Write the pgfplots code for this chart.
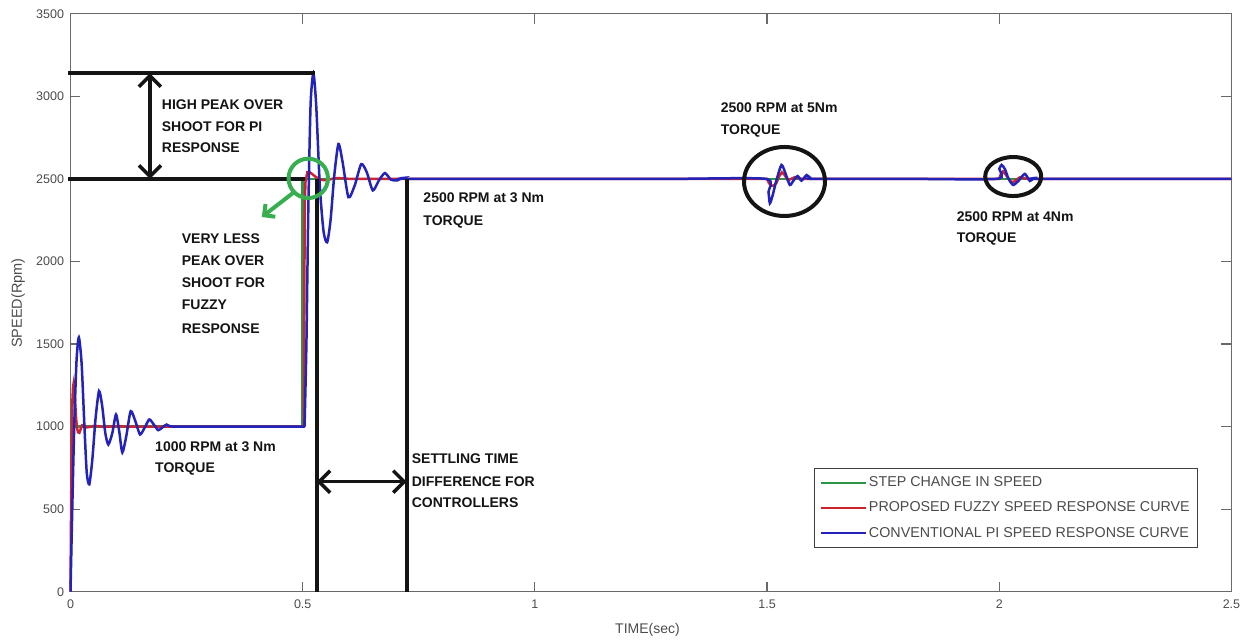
\documentclass[border=0pt]{standalone}
\usepackage{pgfplots}
\pgfplotsset{compat=1.18}
\usepackage{fontspec}
\setmainfont{Liberation Sans}
\usetikzlibrary{arrows.meta}

\definecolor{piblue}{RGB}{35,35,185}
\definecolor{fuzzyred}{RGB}{205,35,45}
\definecolor{stepgreen}{RGB}{45,150,70}
\definecolor{markgreen}{RGB}{55,175,80}
\definecolor{axisgray}{RGB}{105,105,105}
\definecolor{labelgray}{RGB}{75,75,75}
\definecolor{inkblack}{RGB}{20,20,20}

\newcommand{\annfont}{\fontsize{14}{16}\selectfont\bfseries}

\begin{document}
\begin{tikzpicture}
\useasboundingbox (-70.5pt,-49.3pt) rectangle (1177.5pt,591.7pt);
\begin{axis}[
  scale only axis, width=1161pt, height=578pt,
  xmin=0, xmax=2.5, ymin=0, ymax=3500,
  xtick={0,0.5,1,1.5,2,2.5},
  ytick={0,500,1000,1500,2000,2500,3000,3500},
  tick align=inside, major tick length=10pt,
  axis line style={draw=axisgray, line width=1.2pt},
  every tick/.style={axisgray, line width=1.2pt},
  ticklabel style={font=\fontsize{12.5}{13}\selectfont, text=labelgray},
  yticklabel style={xshift=-3pt},
  xticklabel style={yshift=-5pt},
  /pgf/number format/assume math mode=true,
  /pgf/number format/set thousands separator={},
  xlabel={TIME(sec)}, ylabel={SPEED(Rpm)},
  xlabel style={at={(axis description cs:0.497,-0.0715)}, anchor=base,
    font=\fontsize{14}{14}\selectfont, text=labelgray},
  ylabel style={at={(axis description cs:-0.0452,0.4995)}, anchor=center,
    font=\fontsize{14.5}{14.5}\selectfont, text=labelgray},
  clip=false,
  legend cell align=left,
  legend image code/.code={\draw[#1, line width=2pt] (0pt,0pt) -- (45pt,0pt);},
  legend style={at={(axis description cs:0.6404,0.2135)}, anchor=north west,
    draw=black!75, line width=1pt, fill=white,
    font=\fontsize{14.3}{14.3}\selectfont, text=labelgray,
    inner xsep=6pt, inner ysep=6.5pt, row sep=9.7pt,
    nodes={inner sep=1.5pt, text height=10pt, text depth=2.5pt}},
]

% reference speed command
\addplot[stepgreen, line width=2.5pt] coordinates {
  (0,1000) (0.5,1000) (0.5,2500) (2.5,2500)};
\addlegendentry{STEP CHANGE IN SPEED}

% fuzzy controller response
\addplot[fuzzyred, line width=2.5pt] coordinates {
  (0,0) (0.001,400) (0.002,750) (0.003,1000) (0.004,1150) (0.0055,1240)
  (0.007,1265) (0.0085,1230) (0.010,1150) (0.012,1050) (0.014,990)
  (0.0165,965) (0.019,962) (0.022,985) (0.025,1008) (0.030,1006) (0.035,995)
  (0.042,998) (0.05,1004) (0.06,1002) (0.07,998) (0.085,1000) (0.10,1002)
  (0.12,1000) (0.500,1000) (0.5025,1000) (0.5035,1800) (0.5045,2350)
  (0.506,2480) (0.510,2541) (0.515,2540) (0.520,2530) (0.528,2512)
  (0.535,2500) (0.545,2492) (0.555,2494) (0.57,2505) (0.585,2503) (0.60,2500)
  (1.500,2500) (1.504,2475) (1.508,2460) (1.514,2458) (1.520,2475)
  (1.526,2515) (1.532,2540) (1.538,2522) (1.545,2490) (1.552,2500)
  (1.560,2510) (1.567,2504) (1.575,2500) (2.000,2500) (2.004,2535)
  (2.008,2545) (2.014,2525) (2.020,2500) (2.025,2484) (2.030,2480)
  (2.037,2495) (2.045,2510) (2.052,2504) (2.060,2500) (2.5,2500)};
\addlegendentry{PROPOSED FUZZY SPEED RESPONSE CURVE}

% conventional PI controller response: start-up at 1000 rpm
\addplot[piblue, line width=2.5pt, smooth, tension=0.4, forget plot] coordinates {
  (0,0) (0.003,400) (0.008,1000) (0.013,1400) (0.018,1540) (0.024,1380)
  (0.030,1000) (0.035,720) (0.0405,650) (0.047,800) (0.054,1050) (0.0614,1215)
  (0.068,1130) (0.075,960) (0.0815,891) (0.090,960) (0.098,1073) (0.105,970)
  (0.1116,843) (0.120,940) (0.1296,1093) (0.140,1030) (0.1497,952) (0.160,995)
  (0.1697,1043) (0.180,1010) (0.189,978) (0.198,995) (0.207,1012) (0.22,1000)
  (0.30,1000) (0.40,1000) (0.504,1000)};
% step to 2500 rpm and load changes
\addplot[piblue, line width=2.5pt, smooth, tension=0.4] coordinates {
  (0.504,1000) (0.508,1500) (0.512,2300)
  (0.517,2950) (0.523,3139) (0.529,2950) (0.537,2450) (0.545,2180) (0.5527,2116)
  (0.560,2250) (0.568,2520) (0.577,2711) (0.586,2600) (0.5985,2389) (0.612,2460)
  (0.626,2589) (0.638,2540) (0.651,2430) (0.664,2490) (0.677,2535) (0.690,2495)
  (0.703,2490) (0.715,2505) (0.73,2500) (1.00,2500) (1.300,2500) (1.497,2500)
  (1.503,2420) (1.506,2352) (1.512,2400) (1.520,2490) (1.531,2584) (1.540,2530)
  (1.549,2463) (1.557,2490) (1.566,2517) (1.574,2489) (1.585,2523) (1.593,2505)
  (1.60,2500) (1.80,2500) (1.995,2500) (2.000,2560) (2.005,2584) (2.012,2560)
  (2.020,2500) (2.030,2463) (2.042,2490) (2.055,2530) (2.066,2487) (2.075,2505)
  (2.085,2500) (2.30,2500) (2.5,2500)};
\addlegendentry{CONVENTIONAL PI SPEED RESPONSE CURVE}

% overshoot markers
\draw[inkblack, line width=4pt] (axis cs:-0.005,3139) -- (axis cs:0.527,3139);
\draw[inkblack, line width=4pt] (axis cs:-0.005,2500) -- (axis cs:0.506,2500);
\draw[inkblack, line width=3.5pt,
  {Straight Barb[length=11pt,width=22pt]}-{Straight Barb[length=11pt,width=22pt]}]
  (axis cs:0.171,3139) -- (axis cs:0.171,2500);

% settling time markers
\draw[inkblack, line width=4pt] (axis cs:0.530,2500) -- (axis cs:0.530,0);
\draw[inkblack, line width=4pt] (axis cs:0.724,2500) -- (axis cs:0.724,0);
\draw[inkblack, line width=3.5pt,
  {Straight Barb[length=11pt,width=22pt]}-{Straight Barb[length=11pt,width=22pt]}]
  (axis cs:0.530,666) -- (axis cs:0.724,666);

% highlighted regions
\draw[markgreen, line width=4pt] (axis cs:0.512,2503) circle[radius=19.7pt];
\draw[markgreen, line width=4pt, -{Straight Barb[length=8pt,width=16pt]}]
  (axis cs:0.479,2414) -- (axis cs:0.412,2269);
\draw[inkblack, line width=4pt] (axis cs:1.5375,2484) ellipse[x radius=40.5pt, y radius=34.5pt];
\draw[inkblack, line width=4pt] (axis cs:2.030,2514) ellipse[x radius=28pt, y radius=19.5pt];

% annotations
\begin{scope}[every node/.style={anchor=base west, inner sep=0pt, font=\annfont, text=inkblack}]
\node at (axis cs:0.1964,2917) {HIGH PEAK OVER};
\node at (axis cs:0.1964,2784) {SHOOT FOR PI};
\node at (axis cs:0.1964,2657) {RESPONSE};

\node at (axis cs:0.2394,2110) {VERY LESS};
\node at (axis cs:0.2394,1978) {PEAK OVER};
\node at (axis cs:0.2394,1845) {SHOOT FOR};
\node at (axis cs:0.2394,1706) {FUZZY};
\node at (axis cs:0.2394,1566) {RESPONSE};

\node at (axis cs:0.7597,2354) {2500 RPM at 3 Nm};
\node at (axis cs:0.7597,2220) {TORQUE};

\node at (axis cs:1.400,2899) {2500 RPM at 5Nm};
\node at (axis cs:1.400,2766) {TORQUE};

\node at (axis cs:1.908,2241) {2500 RPM at 4Nm};
\node at (axis cs:1.908,2112) {TORQUE};

\node at (axis cs:0.182,848) {1000 RPM at 3 Nm};
\node at (axis cs:0.182,719) {TORQUE};

\node at (axis cs:0.7347,779) {SETTLING TIME};
\node at (axis cs:0.7347,636) {DIFFERENCE FOR};
\node at (axis cs:0.7347,507) {CONTROLLERS};
\end{scope}
\end{axis}
\end{tikzpicture}
\end{document}
